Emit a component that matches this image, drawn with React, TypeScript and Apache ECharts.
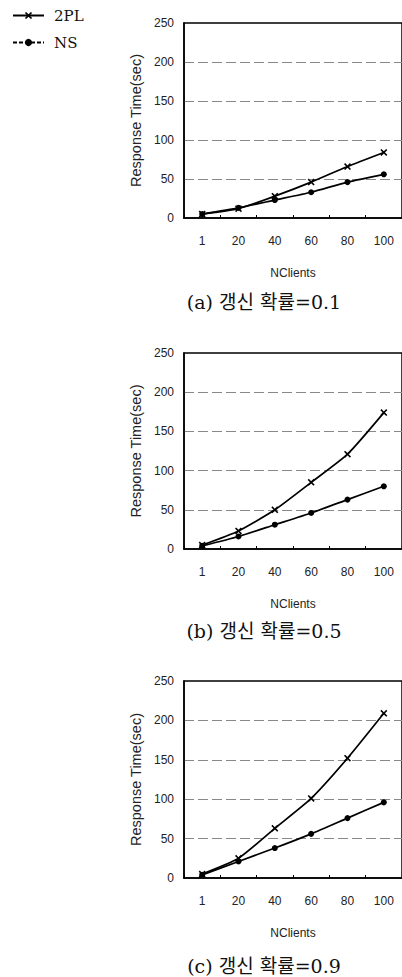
import React, { useEffect, useRef } from "react";
import * as echarts from "echarts";

const categories = ["1", "20", "40", "60", "80", "100"];
const seriesNames = ["2PL", "NS"];

const twoPL_a = [5, 12, 28, 46, 66, 84];
const ns_a = [5, 13, 23, 33, 46, 56];
const twoPL_b = [5, 23, 50, 85, 121, 174];
const ns_b = [4, 16, 31, 46, 63, 80];
const twoPL_c = [5, 25, 63, 101, 152, 209];
const ns_c = [4, 21, 38, 56, 76, 96];

const captions = ["(a) 갱신 확률=0.1", "(b) 갱신 확률=0.5", "(c) 갱신 확률=0.9"];
const yMin = 0;
const yMax = 250;
const yStep = 50;
const xTitle = "NClients";
const yTitle = "Response Time(sec)";

const panels = [
  { twoPL: twoPL_a, ns: ns_a },
  { twoPL: twoPL_b, ns: ns_b },
  { twoPL: twoPL_c, ns: ns_c },
];

const gridTops = [23, 353, 681];
const gridHeights = [195, 196, 197];
const captionYs = [302, 631, 966];

const SANS = '"Liberation Sans", Arial, sans-serif';
const SERIF_FONT = '"DejaVu Serif", "Noto Sans CJK KR", serif';
const CROSS =
  "path://M0,1.6L1.6,0L5,3.4L8.4,0L10,1.6L6.6,5L10,8.4L8.4,10L5,6.6L1.6,10L0,8.4L3.4,5Z";

export default function App() {
  const ref = useRef<HTMLDivElement | null>(null);

  useEffect(() => {
    if (!ref.current) return;
    const chart = echarts.init(ref.current, undefined, { renderer: "svg" });

    const grids = panels.map((_, i) => ({
      left: 184,
      top: gridTops[i],
      width: 222,
      height: gridHeights[i],
      show: true,
      borderColor: "#000",
      borderWidth: 1.5,
      backgroundColor: "transparent",
    }));

    const xAxes = panels.map((_, i) => ({
      type: "category",
      gridIndex: i,
      data: categories,
      boundaryGap: true,
      axisLine: { show: true, lineStyle: { color: "#000", width: 1.5 } },
      axisTick: { show: true, inside: true, length: 3, lineStyle: { color: "#000" } },
      axisLabel: { fontSize: 12, color: "#222", margin: 17, fontFamily: SANS },
      splitLine: { show: false },
      name: xTitle,
      nameLocation: "middle",
      nameGap: 49,
      nameTextStyle: { fontSize: 12, color: "#222", fontFamily: SANS },
    }));

    const yAxes = panels.map((_, i) => ({
      type: "value",
      gridIndex: i,
      min: yMin,
      max: yMax,
      interval: yStep,
      axisLine: { show: true, lineStyle: { color: "#000", width: 1.5 } },
      axisTick: { show: false },
      axisLabel: { fontSize: 12, color: "#222", margin: 10, fontFamily: SANS },
      splitLine: {
        show: true,
        showMinLine: false,
        showMaxLine: false,
        lineStyle: { color: "#888", width: 1, type: [10, 4] },
      },
      name: yTitle,
      nameLocation: "middle",
      nameGap: 38,
      nameTextStyle: { fontSize: 14.5, color: "#222", fontFamily: SANS },
    }));

    const series: any[] = [];
    panels.forEach((p, i) => {
      series.push({
        type: "line",
        name: seriesNames[0],
        xAxisIndex: i,
        yAxisIndex: i,
        data: p.twoPL,
        symbol: CROSS,
        symbolSize: 7,
        smooth: 0.2,
        lineStyle: { color: "#000", width: 1.7 },
        itemStyle: { color: "#000" },
      });
      series.push({
        type: "line",
        name: seriesNames[1],
        xAxisIndex: i,
        yAxisIndex: i,
        data: p.ns,
        symbol: "circle",
        symbolSize: 6,
        smooth: 0.2,
        lineStyle: { color: "#000", width: 1.7 },
        itemStyle: { color: "#000" },
      });
    });

    const graphic = captions.map((c, i) => ({
      type: "text",
      x: 264,
      y: captionYs[i],
      style: {
        text: c,
        fill: "#111",
        font: "19px " + SERIF_FONT,
        textAlign: "center",
        textVerticalAlign: "middle",
        align: "center",
        verticalAlign: "middle",
      },
    }));

    chart.setOption({
      animation: false,
      backgroundColor: "#fff",
      legend: {
        orient: "vertical",
        left: 7,
        top: 3,
        itemWidth: 31,
        itemHeight: 9,
        itemGap: 12,
        data: [
          { name: seriesNames[0] },
          { name: seriesNames[1], lineStyle: { type: [4, 2] } },
        ],
        textStyle: {
          fontSize: 15,
          color: "#111",
          fontFamily: SERIF_FONT,
          padding: [0, 0, 0, 5],
        },
      },
      grid: grids,
      xAxis: xAxes,
      yAxis: yAxes,
      series,
      graphic,
    } as any);

    return () => {
      chart.dispose();
    };
  }, []);

  return (
    <div
      ref={ref}
      style={{ position: "absolute", left: 0, top: 0, width: 402, height: 977, background: "#fff" }}
    />
  );
}
